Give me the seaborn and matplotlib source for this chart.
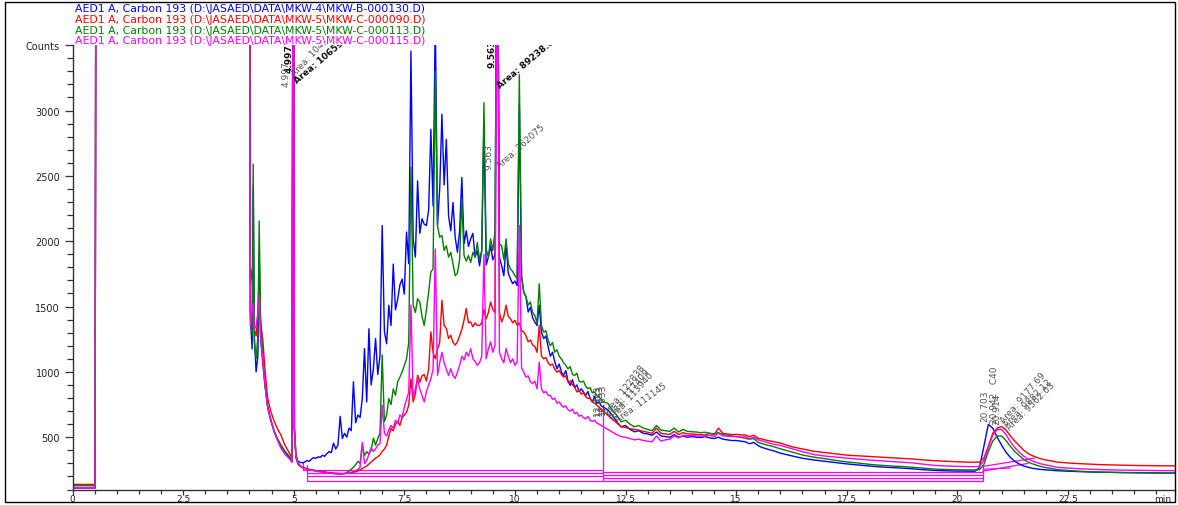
import numpy as np
import pandas as pd
import matplotlib
matplotlib.use("Agg")
import matplotlib.pyplot as plt
from matplotlib.ticker import MultipleLocator, FixedLocator, FixedFormatter
from matplotlib.patches import Rectangle
import seaborn as sns

# ---------------------------------------------------------------- retention time grids (min)
t_front = [0.0, 0.51, 0.53, 4.0, 4.02, 4.06, 4.085, 4.11, 4.15, 4.19, 4.22, 4.25, 4.30,
           4.35, 4.41, 4.48, 4.56, 4.64, 4.71, 4.80, 4.90, 4.96, 4.985, 5.0, 5.015, 5.05]
t_hump = np.round(np.arange(5.10, 12.001, 0.05), 2)
t_tail = np.round(np.arange(12.1, 16.001, 0.1), 2)
t_drift = np.round(np.arange(16.25, 20.251, 0.25), 2)
t_c40 = np.round(np.arange(20.4, 22.001, 0.1), 2)
t_end = np.round(np.arange(22.25, 25.001, 0.25), 2)

# ---------------------------------------------------------------- AED carbon 193 nm signal (counts)
# MKW-B-000130 (blue)
blue_front = [111, 111, 5000, 5000, 1425, 1175, 2424, 1275, 1000, 1120, 1915, 1275, 1070,
              900, 730, 630, 540, 480, 435, 390, 345, 315, 5000, 5000, 570, 350]
blue_hump = [315, 308, 304, 310, 322, 315, 332, 344, 338, 350,
             346, 362, 354, 375, 390, 382, 455, 410, 440, 660,
             490, 530, 500, 570, 550, 925, 610, 670, 650, 796,
             1178, 770, 1330, 900, 1020, 1255, 980, 1120, 2120, 1308,
             1215, 1510, 1355, 1825, 1475, 1555, 1665, 1710, 1595, 2070,
             1828, 3455, 2018, 1878, 2462, 2060, 2172, 2130, 2120, 2240,
             2856, 2270, 3700, 2120, 2400, 2972, 2430, 2780, 2195, 2080,
             2296, 2030, 1915, 2080, 2488, 1980, 2080, 1960, 2018, 2060,
             1878, 1928, 1812, 1928, 2908, 1818, 1878, 1965, 1858, 1900,
             5000, 1878, 1812, 1736, 1980, 1756, 1710, 1675, 1695, 1660,
             3046, 1725, 1610, 1575, 1458, 1495, 1415, 1380, 1355, 1510,
             1305, 1255, 1275, 1195, 1120, 1150, 1080, 1023, 1060, 1000,
             973, 1010, 930, 897, 940, 880, 900, 850, 870, 846,
             820, 850, 796, 770, 810, 760, 771, 740, 730]
blue_tail = [710, 670, 620, 580, 590, 560, 542, 550, 530, 525,
             515, 540, 510, 505, 500, 520, 500, 510, 500, 505,
             500, 498, 505, 495, 490, 500, 485, 480, 475, 475,
             470, 466, 450, 460, 435, 420, 410, 400, 390, 378]
blue_drift = [358, 339, 326, 316, 306, 296, 288, 280, 273, 268, 264, 258, 251, 246, 243, 241, 240]
blue_c40 = [240, 268, 430, 598, 570, 500, 440, 385, 345, 315, 295, 280, 270, 262, 257, 253, 250]
blue_end = [244, 240, 237, 234, 232, 231, 230, 229, 228, 227, 226, 225]

# MKW-C-000090 (red)
red_front = [139, 139, 5000, 5000, 1675, 1790, 1475, 1325, 1275, 1425, 1765, 1375, 1255,
             1020, 800, 700, 620, 560, 518, 440, 380, 340, 5000, 5000, 570, 370]
red_hump = [300, 282, 270, 265, 260, 255, 252, 248, 245, 242,
            240, 238, 235, 232, 230, 228, 226, 225, 224, 223,
            222, 222, 224, 226, 228, 232, 236, 242, 250, 260,
            270, 280, 295, 310, 325, 340, 350, 365, 392, 410,
            440, 510, 568, 550, 600, 620, 590, 650, 670, 690,
            745, 947, 770, 830, 975, 920, 970, 980, 930, 1023,
            1306, 1150, 1100, 1175, 1225, 1548, 1355, 1332, 1255, 1280,
            1225, 1205, 1230, 1275, 1325, 1395, 1485, 1375, 1382, 1345,
            1375, 1356, 1355, 1375, 1477, 1405, 1455, 1535, 1477, 1455,
            5000, 1455, 1382, 1425, 1510, 1425, 1407, 1375, 1395, 1356,
            1375, 1315, 1306, 1275, 1230, 1245, 1205, 1195, 1150, 1356,
            1120, 1100, 1110, 1070, 1050, 1060, 1020, 998, 1010, 980,
            960, 970, 922, 930, 900, 885, 846, 860, 830, 840,
            810, 796, 800, 770, 760, 745, 730, 710, 695]
red_tail = [670, 640, 610, 580, 575, 565, 560, 555, 545, 538,
            530, 570, 530, 525, 522, 545, 520, 535, 525, 525,
            522, 520, 518, 530, 518, 570, 530, 525, 520, 522,
            518, 518, 505, 515, 492, 485, 475, 470, 462, 455]
red_drift = [428, 410, 393, 383, 373, 363, 358, 353, 348, 343, 338, 333, 326, 320, 316, 312, 309]
red_c40 = [309, 310, 340, 430, 530, 570, 582, 555, 510, 470, 435, 400, 375, 358, 345, 334, 326]
red_end = [310, 303, 298, 294, 290, 288, 286, 284, 283, 282, 281, 281]

# MKW-C-000113 (green)
green_front = [129, 129, 5000, 5000, 1475, 1275, 2590, 1225, 1100, 1275, 2155, 1432, 1125,
               900, 745, 640, 546, 485, 442, 395, 354, 320, 5000, 5000, 550, 340]
green_hump = [290, 275, 265, 260, 255, 252, 250, 245, 242, 240,
              238, 235, 232, 230, 228, 225, 223, 220, 220, 218,
              220, 222, 232, 240, 255, 270, 290, 315, 300, 442,
              360, 390, 370, 400, 493, 440, 490, 530, 1130, 619,
              670, 796, 750, 870, 821, 925, 960, 1000, 1048, 1100,
              1225, 2565, 1510, 1455, 1560, 1535, 1425, 1355, 1475, 1610,
              1764, 1788, 3300, 2120, 2030, 2045, 1930, 1965, 1878, 1915,
              1828, 1736, 1756, 1858, 2323, 1890, 1848, 1890, 1838, 1915,
              1878, 1990, 1858, 1928, 3060, 1940, 1878, 2018, 1928, 2080,
              5000, 1980, 1965, 1858, 2018, 1828, 1788, 1768, 1736, 1716,
              3275, 1736, 1610, 1575, 1510, 1535, 1455, 1432, 1375, 1675,
              1355, 1305, 1315, 1243, 1200, 1225, 1150, 1170, 1120, 1100,
              1070, 1050, 1023, 1040, 980, 973, 990, 930, 922, 930,
              890, 871, 880, 840, 846, 820, 808, 790, 770]
green_tail = [760, 710, 670, 618, 630, 600, 580, 590, 570, 560,
              550, 590, 555, 550, 545, 570, 540, 560, 545, 542,
              540, 535, 538, 530, 525, 535, 520, 515, 510, 505,
              500, 492, 485, 490, 460, 450, 440, 432, 422, 412]
green_drift = [388, 364, 348, 336, 323, 311, 303, 293, 286, 280, 276, 270, 263, 256, 253, 251, 250]
green_c40 = [250, 251, 290, 390, 470, 508, 510, 475, 430, 390, 360, 330, 310, 296, 285, 275, 268]
green_end = [253, 246, 240, 236, 233, 231, 229, 228, 227, 226, 226, 225]

# MKW-C-000115 (magenta)
magenta_front = [111, 111, 5000, 5000, 1355, 1475, 1525, 1330, 1350, 1455, 1585, 1275, 1090,
                 910, 730, 630, 540, 470, 417, 370, 336, 305, 5000, 5000, 570, 360]
magenta_hump = [305, 280, 268, 260, 255, 252, 248, 245, 242, 238,
                235, 232, 230, 228, 225, 223, 222, 220, 220, 220,
                220, 222, 225, 228, 232, 238, 245, 252, 270, 460,
                300, 320, 370, 420, 390, 410, 440, 450, 745, 530,
                510, 560, 590, 570, 630, 610, 670, 650, 730, 790,
                846, 1510, 800, 870, 947, 870, 820, 770, 850, 900,
                947, 1020, 1940, 973, 1070, 1150, 1070, 1020, 973, 1025,
                973, 950, 998, 1050, 1120, 1090, 1150, 1120, 1178, 1100,
                1080, 1050, 1070, 1120, 1900, 1100, 1175, 1230, 1150, 1205,
                5000, 1150, 1100, 1070, 1178, 1120, 1070, 1100, 1050, 1075,
                2120, 1030, 998, 960, 970, 922, 910, 930, 870, 1075,
                870, 840, 850, 820, 821, 790, 800, 760, 770, 745,
                730, 740, 710, 700, 715, 680, 690, 660, 669, 650,
                640, 660, 630, 620, 630, 610, 600, 590, 580]
magenta_tail = [560, 540, 520, 505, 500, 490, 480, 485, 475, 470,
                465, 510, 470, 480, 485, 510, 495, 515, 510, 515,
                510, 508, 510, 515, 505, 530, 510, 508, 505, 505,
                500, 505, 490, 500, 480, 470, 460, 450, 442, 437]
magenta_drift = [413, 389, 368, 356, 348, 340, 333, 326, 320, 314, 309, 303, 293, 284, 280, 277, 275]
magenta_c40 = [275, 276, 320, 420, 515, 558, 560, 520, 465, 420, 385, 355, 332, 318, 305, 295, 288]
magenta_end = [270, 264, 259, 255, 252, 250, 248, 247, 246, 245, 244, 243]

trace_files = ["MKW-4\\MKW-B-000130.D", "MKW-5\\MKW-C-000090.D",
               "MKW-5\\MKW-C-000113.D", "MKW-5\\MKW-C-000115.D"]
trace_colors = ["#0000FF", "#FF0000", "#008000", "#FF00FF"]

# integration baselines drawn by the data system: (t0, v0, t1, v1)
baseline_segments = [
    (5.22, 246, 12.0, 246), (5.31, 225, 12.0, 225), (5.31, 200, 12.0, 200), (5.31, 165, 12.0, 165),
    (5.22, 246, 5.22, 300), (5.31, 165, 5.31, 290),
    (12.0, 165, 12.0, 744),
    (12.0, 234, 20.57, 234), (12.0, 212, 20.57, 212), (12.0, 190, 20.57, 190), (12.0, 168, 20.57, 168),
    (20.57, 168, 20.57, 276),
    (20.57, 276, 21.74, 340), (20.57, 240, 21.6, 300), (20.6, 255, 21.2, 265),
]

# peak annotations: (text, t, counts, rotation, bold)
peak_labels = [
    ("4.997", 4.995, 3293, 90, True),
    ("4.997", 4.93, 3186, 90, False),
    ("Area: 10473.2", 5.06, 3254, 47, False),
    ("Area: 10659.5", 5.10, 3201, 40, True),
    ("9.563", 9.59, 3331, 90, True),
    ("Area: 89238.6", 9.70, 3163, 40, True),
    ("9.563", 9.52, 2552, 90, False),
    ("Area: 262075", 9.70, 2552, 42, False),
    ("12.023", 11.96, 668, 90, False),
    ("12.053", 12.02, 668, 90, False),
    ("12.033", 12.07, 680, 90, False),
    ("Area: 122838", 12.15, 660, 52, False),
    ("Area: 117409", 12.20, 635, 50, False),
    ("Area: 113940", 12.24, 620, 48, False),
    ("Area: 111145", 12.35, 607, 36, False),
    ("20.703", 20.72, 622, 90, False),
    ("20.942   C40", 20.95, 607, 90, False),
    ("20.914", 20.99, 600, 90, False),
    ("Area: 9177.69", 21.10, 600, 49, False),
    ("Area: 9882.12", 21.15, 570, 45, False),
    ("Area: 9562.03", 21.22, 545, 45, False),
]

# ---------------------------------------------------------------- assemble long table
times = np.concatenate([t_front, t_hump, t_tail, t_drift, t_c40, t_end])
series = {
    trace_files[0]: blue_front + blue_hump + blue_tail + blue_drift + blue_c40 + blue_end,
    trace_files[1]: red_front + red_hump + red_tail + red_drift + red_c40 + red_end,
    trace_files[2]: green_front + green_hump + green_tail + green_drift + green_c40 + green_end,
    trace_files[3]: magenta_front + magenta_hump + magenta_tail + magenta_drift + magenta_c40 + magenta_end,
}
frames = []
for name, vals in series.items():
    frames.append(pd.DataFrame({"minutes": times, "counts": vals, "trace": name}))
df = pd.concat(frames, ignore_index=True)

# ---------------------------------------------------------------- figure
sns.set_theme(style="white")
plt.rcParams["font.family"] = ["DejaVu Sans"]

W, H = 1178, 506
fig = plt.figure(figsize=(W / 100, H / 100), dpi=100)
ax = fig.add_axes([72.5 / W, (H - 490.5) / H, (1175 - 72.5) / W, (490.5 - 46.2) / H])

sns.lineplot(data=df, x="minutes", y="counts", hue="trace", hue_order=trace_files,
             palette=trace_colors, estimator=None, sort=False, linewidth=1.0,
             legend=False, ax=ax)

for t0, v0, t1, v1 in baseline_segments:
    ax.plot([t0, t1], [v0, v1], color="#FF00FF", lw=0.9, zorder=1.5)

for text, t, v, rot, bold in peak_labels:
    ax.text(t, v, text, rotation=rot, rotation_mode="anchor", ha="left", va="bottom",
            fontsize=6.5, color="#111111" if bold else "#555555",
            fontweight="bold" if bold else "normal", clip_on=True, zorder=5)

ax.set_xlim(0, 24.92)
ax.set_ylim(100, 3500)
ax.set_xlabel("")
ax.set_ylabel("")

for side in ("top", "right"):
    ax.spines[side].set_visible(False)
for side in ("left", "bottom"):
    ax.spines[side].set_color("#333333")
    ax.spines[side].set_linewidth(1.0)

ax.xaxis.set_major_locator(MultipleLocator(2.5))
ax.xaxis.set_minor_locator(MultipleLocator(0.5))
ax.set_xticks(np.arange(0, 24.0, 2.5))
ax.set_xticklabels(["0", "2.5", "5", "7.5", "10", "12.5", "15", "17.5", "20", "22.5"])

ax.yaxis.set_major_locator(FixedLocator([500, 1000, 1500, 2000, 2500, 3000, 3500]))
ax.yaxis.set_major_formatter(FixedFormatter(["500", "1000", "1500", "2000", "2500", "3000", "Counts"]))
ax.yaxis.set_minor_locator(MultipleLocator(100))

ax.tick_params(axis="x", which="major", direction="out", length=3.5, width=0.9,
               color="#333333", labelsize=6.5, labelcolor="#222222", pad=-0.5)
ax.tick_params(axis="x", which="minor", direction="out", length=3, width=0.9, color="#333333")
ax.tick_params(axis="y", which="major", direction="out", length=6, width=0.9,
               color="#333333", labelsize=7, labelcolor="#222222", pad=3)
ax.tick_params(axis="y", which="minor", direction="out", length=4, width=0.9, color="#333333")
ax.xaxis.set_ticks_position("bottom")
ax.yaxis.set_ticks_position("left")

ax.text(24.65, -0.02, "min", transform=ax.get_xaxis_transform(), ha="center", va="center",
        fontsize=6.5, color="#222222", clip_on=False)

# trace header lines
header_y = [9.5, 20.0, 30.5, 41.0]
for fname, col, yy in zip(trace_files, trace_colors, header_y):
    fig.text(75 / W, 1 - yy / H, f"AED1 A, Carbon 193 (D:\\JASAED\\DATA\\{fname})",
             color=col, fontsize=7.8, ha="left", va="center")

# outer frame
fig.patches.append(Rectangle((5 / W, 3 / H), (1175 - 5) / W, (503 - 3) / H,
                             transform=fig.transFigure, fill=False, edgecolor="black", lw=1.0))

fig.savefig("out.png", dpi=100)
